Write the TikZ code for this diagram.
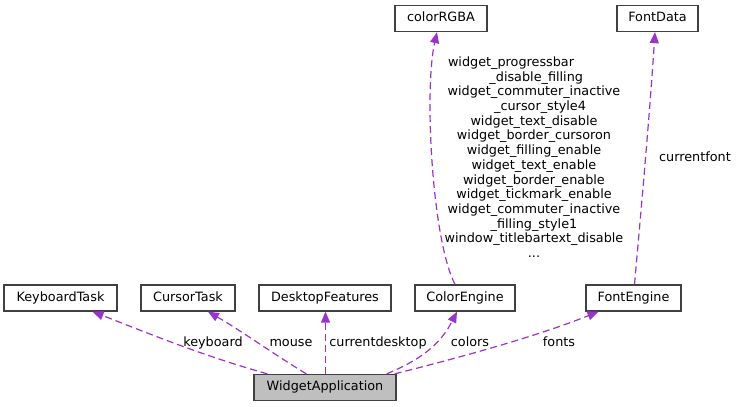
\documentclass[tikz,border=0pt]{standalone}
\usepackage{fontspec}
\setmainfont{DejaVu Sans}
\usetikzlibrary{arrows.meta}
\definecolor{edgec}{HTML}{9A32CD}
\definecolor{boxc}{HTML}{404040}
\definecolor{wafill}{HTML}{BFBFBF}
\begin{document}
\begin{tikzpicture}[x=1pt,y=-1pt,
  font=\fontsize{12.8}{14.7}\selectfont,
  cls/.style={draw=boxc,line width=1.3pt,fill=white,inner sep=0pt,
    minimum height=26pt,text height=9.5pt,text depth=3pt,anchor=center},
  rel/.style={draw=edgec,line width=1.2pt,dash pattern=on 7pt off 4pt,
    -{Triangle[length=11pt,width=9pt]}},
  lbl/.style={inner sep=0pt,anchor=base,text=black}]
\useasboundingbox (0,0) rectangle (737,407);
% nodes
\node[cls,minimum width=113pt] (kt) at (60.5,298) {KeyboardTask};
\node[cls,minimum width=94pt] (ct) at (188,298) {CursorTask};
\node[cls,minimum width=132pt] (df) at (325,298) {DesktopFeatures};
\node[cls,minimum width=100pt] (ce) at (465,298) {ColorEngine};
\node[cls,minimum width=95pt] (fe) at (633.5,298) {FontEngine};
\node[cls,minimum width=142pt,minimum height=26pt,fill=wafill] (wa) at (325,387.5) {WidgetApplication};
\node[cls,minimum width=92pt] (rgba) at (441,18.5) {colorRGBA};
\node[cls,minimum width=81pt] (fd) at (657.5,18.5) {FontData};
% edges
\draw[rel] ([xshift=14pt]wa.north west) .. controls (200,355) and (140,330) .. ([xshift=32pt]kt.south);
\draw[rel] ([xshift=53pt]wa.north west) .. controls (275,355) and (240,330) .. ([xshift=20pt]ct.south);
\draw[rel] ([xshift=0.5pt]wa.north) -- ([xshift=0.5pt]df.south);
\draw[rel] ([xshift=-10pt]wa.north east) .. controls (420,360) and (440,345) .. ([xshift=-8pt]ce.south);
\draw[rel] ([xshift=-2pt]wa.north east) .. controls (470,355) and (540,335) .. ([xshift=-35pt]fe.south);
\draw[rel] ([xshift=-10pt]ce.north) .. controls (432,240) and (424,90) .. ([xshift=-4pt]rgba.south);
\draw[rel] ([xshift=1pt]fe.north) .. controls (642,200) and (650,110) .. ([xshift=-2.5pt]fd.south);
% labels
\node[lbl] (lkb) at (213,346.5) {keyboard};
\node[lbl] (lms) at (291,346.5) {mouse};
\node[lbl] (lcd) at (378,346.5) {currentdesktop};
\node[lbl] (lco) at (470,346.5) {colors};
\node[lbl] (lfo) at (559,346.5) {fonts};
\node[lbl] (lcf) at (695,161.5) {currentfont};
\node[inner sep=0pt,align=center,anchor=north,text=black] (lrgba) at (534,56.5) {%
\makebox[172pt][l]{widget\_progressbar}\\
\makebox[98pt][r]{\_disable\_filling}\\
widget\_commuter\_inactive\\
\makebox[104pt][r]{\_cursor\_style4}\\
widget\_text\_disable\\
widget\_border\_cursoron\\
widget\_filling\_enable\\
widget\_text\_enable\\
widget\_border\_enable\\
widget\_tickmark\_enable\\
widget\_commuter\_inactive\\
\_filling\_style1\\
window\_titlebartext\_disable\\
...};
\end{tikzpicture}
\end{document}
